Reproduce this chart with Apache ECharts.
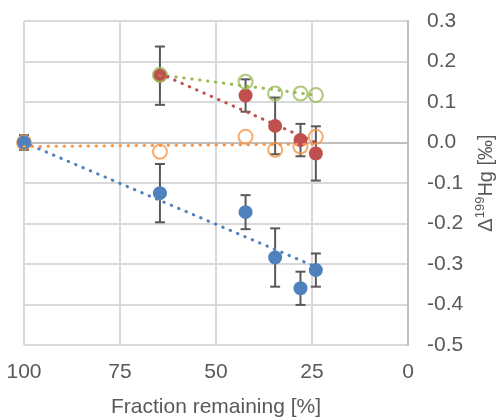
<!DOCTYPE html>
<html>
<head>
<meta charset="utf-8">
<script src="https://cdn.jsdelivr.net/npm/echarts@6/dist/echarts.min.js"></script>
<style>
html,body{margin:0;padding:0;background:#fff;}
#main{width:499px;height:419px;}
</style>
</head>
<body>
<div id="main"></div>
<script>
// 数据
var fraction = [100, 64.6, 42.3, 34.6, 28, 24];
var blueVal = [0, -0.125, -0.172, -0.284, -0.36, -0.315];
var blueErr = [0.018, 0.072, 0.042, 0.072, 0.041, 0.041];
var orangeVal = [0, -0.023, 0.014, -0.018, -0.010, 0.014];

var fraction2 = [64.6, 42.3, 34.6, 28, 24];
var greenVal = [0.167, 0.150, 0.121, 0.121, 0.117];
var redVal = [0.165, 0.116, 0.041, 0.006, -0.027];
var redErr = [0.072, 0.040, 0.070, 0.040, 0.067];

// 趋势线端点
var blueTrend = [[100, 0], [24, -0.307]];
var orangeTrend = [[100, -0.01], [24, -0.004]];
var greenTrend = [[64.6, 0.167], [24, 0.117]];
var redTrend = [[64.6, 0.17], [24, 0.0]];

function pairs(xs, ys){
	var arr = [];
	for (var i = 0; i < xs.length; i++) arr.push([xs[i], ys[i]]);
	return arr;
}
function errData(xs, ys, es){
	var arr = [];
	for (var i = 0; i < xs.length; i++) arr.push([xs[i], ys[i] - es[i], ys[i] + es[i]]);
	return arr;
}
//误差线
function errItem(params, api){
	var lo = api.coord([api.value(0), api.value(1)]);
	var hi = api.coord([api.value(0), api.value(2)]);
	var w = 5;
	var st = { stroke: '#595959', lineWidth: 2 };
	return {
		type: 'group',
		children: [
			{ type: 'line', shape: { x1: lo[0], y1: lo[1], x2: hi[0], y2: hi[1] }, style: st },
			{ type: 'line', shape: { x1: lo[0] - w, y1: lo[1], x2: lo[0] + w, y2: lo[1] }, style: st },
			{ type: 'line', shape: { x1: hi[0] - w, y1: hi[1], x2: hi[0] + w, y2: hi[1] }, style: st }
		]
	};
}
function trend(data, color){
	return {
		type: 'line', data: data, symbol: 'none', z: 5, silent: true,
		lineStyle: { color: color, width: 3, type: [0.5, 7.5], cap: 'round' }
	};
}

var font = '"Liberation Sans", Arial, sans-serif';
var myChart = echarts.init(document.getElementById('main'));
var option = {
	animation: false,
	grid: { left: 24, right: 91, top: 21, bottom: 74, containLabel: false, outerBoundsMode: 'none' },
	xAxis: {
		type: 'value', min: 0, max: 100, interval: 25, inverse: true,
		name: 'Fraction remaining [%]', nameLocation: 'middle', nameGap: 52,
		nameTextStyle: { color: '#595959', fontSize: 21, fontFamily: font },
		axisLine: { show: true, lineStyle: { color: '#bfbfbf', width: 2 } },
		axisTick: { show: false },
		axisLabel: { color: '#595959', fontSize: 21, fontFamily: font, margin: 17 },
		splitLine: { show: true, lineStyle: { color: '#d9d9d9', width: 2 } }
	},
	yAxis: {
		type: 'value', position: 'right', min: -0.5, max: 0.3, interval: 0.1,
		name: '{d|Δ}{s|199}{d|Hg [‰]}', nameLocation: 'middle', nameGap: 64, nameRotate: 90,
		nameTextStyle: {
			color: '#595959', fontFamily: font,
			rich: {
				d: { fontSize: 20, color: '#595959', fontFamily: font, lineHeight: 24 },
				s: { fontSize: 13, color: '#595959', fontFamily: font, verticalAlign: 'top', lineHeight: 24, padding: [0, 0, 9, 0] }
			}
		},
		axisLine: { show: true, lineStyle: { color: '#bfbfbf', width: 2 } },
		axisTick: { show: false },
		axisLabel: {
			color: '#595959', fontSize: 21, fontFamily: font, margin: 19,
			formatter: function(v){ return Math.abs(v) < 1e-9 ? '0.0' : v.toFixed(1); }
		},
		splitLine: { show: true, lineStyle: { color: '#d9d9d9', width: 2 } }
	},
	series: [
		{ type: 'custom', renderItem: errItem, data: errData(fraction, blueVal, blueErr), z: 2, encode: { x: 0, y: [1, 2] } },
		{ type: 'custom', renderItem: errItem, data: errData(fraction2, redVal, redErr), z: 2, encode: { x: 0, y: [1, 2] } },
		{ type: 'scatter', data: pairs(fraction, orangeVal), symbolSize: 14, z: 3,
			itemStyle: { color: 'rgba(0,0,0,0)', borderColor: '#f79646', borderWidth: 2 } },
		{ type: 'scatter', data: pairs(fraction, blueVal), symbolSize: 14, z: 3,
			itemStyle: { color: '#4f81bd', opacity: 1 } },
		{ type: 'scatter', data: pairs(fraction2, redVal), symbolSize: 14, z: 3,
			itemStyle: { color: '#c0504d', opacity: 1 } },
		{ type: 'scatter', data: pairs(fraction2, greenVal), symbolSize: 14, z: 4,
			itemStyle: { color: 'rgba(0,0,0,0)', borderColor: '#9bbb59', borderWidth: 2 } },
		trend(blueTrend, '#4f81bd'),
		trend(orangeTrend, '#f79646'),
		trend(greenTrend, '#9bbb59'),
		trend(redTrend, '#c0504d')
	]
};
myChart.setOption(option);
</script>
</body>
</html>
